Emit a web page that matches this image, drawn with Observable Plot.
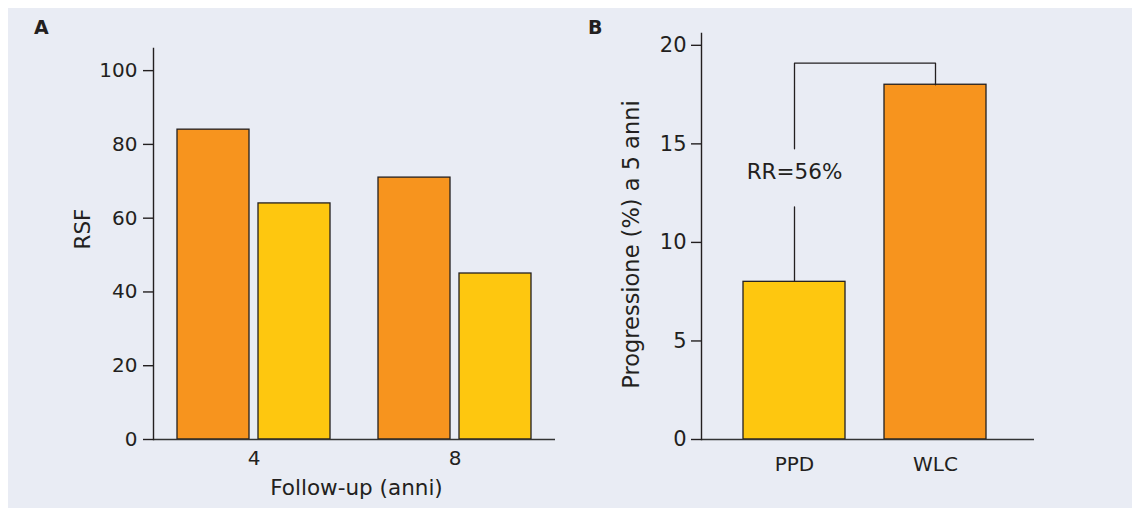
<!DOCTYPE html>
<html>
<head>
<meta charset="utf-8">
<script src="https://cdn.jsdelivr.net/npm/d3@7"></script>
<script src="https://cdn.jsdelivr.net/npm/@observablehq/plot@0.6"></script>
<style>
  html, body { margin: 0; padding: 0; background: #ffffff; }
  #wrap { position: absolute; left: 8px; top: 8px; width: 1124px; height: 500px; background: #e9ecf4;
          font-family: "DejaVu Sans", Verdana, sans-serif; color: #231f20; }
  .panel { position: absolute; top: 0; }
  .tag { position: absolute; top: 10px; font-weight: bold; font-size: 19px; line-height: 19px; }
</style>
</head>
<body>
<div id="wrap">
  <div class="tag" style="left:26px">A</div>
  <div class="tag" style="left:580px">B</div>
  <div id="panelA" class="panel" style="left:0px"></div>
  <div id="panelB" class="panel" style="left:570px"></div>
</div>
<script>
// ---------- Panel A data ----------
const followUp = ["4", "8"];                 // follow-up (anni)
const groupsA = ["Gruppo 1", "Gruppo 2"];    // orange, yellow
const rsfGruppo1 = [84, 71];
const rsfGruppo2 = [64, 45];
const ticksA = [0, 20, 40, 60, 80, 100];
const yLabelA = "RSF";
const xLabelA = "Follow-up (anni)";

// ---------- Panel B data ----------
const categoriesB = ["PPD", "WLC"];
const progressione = [8, 18];
const ticksB = [0, 5, 10, 15, 20];
const yLabelB = "Progressione (%) a 5 anni";
const rrLabel = "RR=56%";
const rrLabelY = 13.55;
// bracket annotation (values on the y scale)
const bracketX = ["PPD", "PPD", "PPD", "PPD", "WLC", "WLC"];
const bracketY = [8.05, 11.8, 14.75, 19.1, 19.1, 18];
const bracketSeg = [1, 1, 2, 2, 2, 2];

// ---------- styles ----------
const ORANGE = "#f7941e";
const YELLOW = "#fec70f";
const INK = "#231f20";
const FONT = "'DejaVu Sans', Verdana, sans-serif";

// ---------- build tables ----------
const dataA = [];
followUp.forEach((f, i) => {
  dataA.push({followup: f, group: groupsA[0], value: rsfGruppo1[i]});
  dataA.push({followup: f, group: groupsA[1], value: rsfGruppo2[i]});
});
const dataB = categoriesB.map((c, i) => ({cat: c, value: progressione[i]}));
const bracket = bracketX.map((x, i) => ({x, y: bracketY[i], seg: bracketSeg[i]}));

const plotA = Plot.plot({
  width: 570,
  height: 500,
  marginLeft: 145,
  marginRight: 23,
  marginTop: 40,
  marginBottom: 69,
  style: {background: "transparent", fontFamily: FONT, color: INK, overflow: "visible"},
  fx: {domain: followUp, padding: 0},
  x: {domain: groupsA, paddingInner: 0.105, paddingOuter: 0.293, axis: null},
  y: {domain: [0, 106]},
  color: {domain: groupsA, range: [ORANGE, YELLOW]},
  marks: [
    Plot.barY(dataA, {fx: "followup", x: "group", y: "value", fill: "group", stroke: INK, strokeWidth: 1.3}),
    Plot.ruleY([0], {stroke: "#333333", strokeWidth: 1.6}),
    Plot.frame({anchor: "left", facetAnchor: "left", stroke: INK, strokeWidth: 1.4}),
    Plot.axisY({ticks: ticksA, tickSize: 10, tickPadding: 6, fontSize: 20, label: null, strokeWidth: 1.4}),
    Plot.axisFx({anchor: "bottom", tickSize: 0, tickPadding: 11, fontSize: 20, label: null}),
    Plot.text([{fx: followUp[0], t: yLabelA}], {fx: "fx", text: "t", frameAnchor: "left", textAnchor: "middle", rotate: -90, dx: -70, dy: -15, fontSize: 21.5, fill: INK}),
    Plot.text([{fx: followUp[0], t: xLabelA}], {fx: "fx", text: "t", frameAnchor: "bottom-right", textAnchor: "middle", dx: 2, dy: 55, fontSize: 21.5, fill: INK})
  ]
});
document.getElementById("panelA").appendChild(plotA);

const plotB = Plot.plot({
  width: 554,
  height: 500,
  marginLeft: 123,
  marginRight: 98,
  marginTop: 25,
  marginBottom: 69,
  style: {background: "transparent", fontFamily: FONT, color: INK, overflow: "visible"},
  x: {domain: categoriesB, paddingInner: 0.28, paddingOuter: 0.32, align: 0.465},
  y: {domain: [0, 20.6]},
  color: {domain: categoriesB, range: [YELLOW, ORANGE]},
  marks: [
    Plot.barY(dataB, {x: "cat", y: "value", fill: "cat", stroke: INK, strokeWidth: 1.3}),
    Plot.ruleY([0], {stroke: "#333333", strokeWidth: 1.6}),
    Plot.frame({anchor: "left", stroke: INK, strokeWidth: 1.4}),
    Plot.line(bracket, {x: "x", y: "y", z: "seg", stroke: INK, strokeWidth: 1.3}),
    Plot.text([{x: categoriesB[0], y: rrLabelY, t: rrLabel}], {x: "x", y: "y", text: "t", fontSize: 21.5, fill: INK}),
    Plot.axisY({ticks: ticksB, tickSize: 10, tickPadding: 5, fontSize: 21, label: null, strokeWidth: 1.4}),
    Plot.axisX({tickSize: 0, tickPadding: 17, fontSize: 20, label: null}),
    Plot.text([yLabelB], {frameAnchor: "left", textAnchor: "middle", rotate: -90, dx: -70, dy: 8, fontSize: 22.5, fill: INK})
  ]
});
document.getElementById("panelB").appendChild(plotB);
</script>
</body>
</html>
